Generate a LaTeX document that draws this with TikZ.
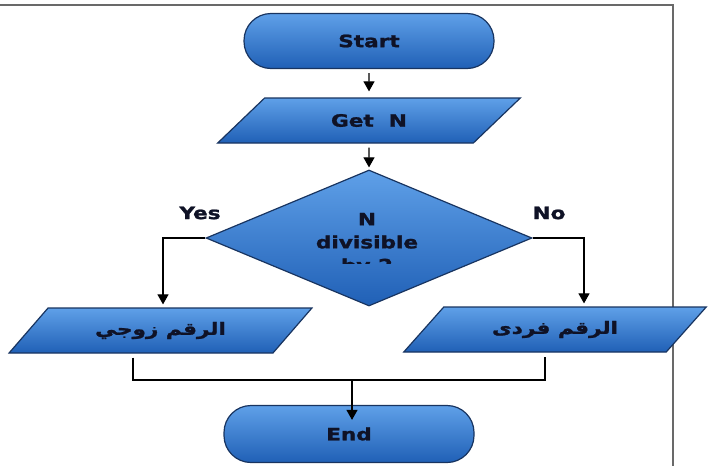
\documentclass[tikz,border=0pt]{standalone}
\usepackage{fontspec}
\setsansfont{DejaVu Sans}[BoldFeatures={FakeBold=1.3}]
\newfontfamily\arabicfont[Script=Arabic, BoldFeatures={FakeBold=1.3}]{DejaVu Sans}
\TeXXeTstate=1
\usetikzlibrary{shapes.geometric,arrows.meta}

\definecolor{boxtop}{RGB}{95,160,232}
\definecolor{boxbottom}{RGB}{32,96,182}
\definecolor{boxedge}{RGB}{24,52,96}
\definecolor{textdark}{RGB}{15,18,38}
\definecolor{framegray}{RGB}{105,105,105}

% wide bold lettering as in the chart
\newcommand{\widetxt}[1]{\scalebox{1.27}[1]{#1}}

\tikzset{
  box/.style={draw=boxedge, line width=1.2pt, top color=boxtop, bottom color=boxbottom,
    inner sep=0pt, font=\sffamily\bfseries\fontsize{17}{23}\selectfont, text=textdark},
  terminal/.style={box, rectangle, rounded corners=27pt, minimum width=250pt, minimum height=55pt},
  io/.style={box, trapezium, trapezium left angle=37, trapezium right angle=143,
    trapezium stretches=true, minimum width=303pt, minimum height=45pt},
  decision/.style={box, diamond, minimum width=326pt, minimum height=136pt},
  txt/.style={font=\sffamily\bfseries\fontsize{17}{23}\selectfont, text=textdark, inner sep=0pt},
  line/.style={draw=black, line width=1.1pt},
  arrow/.style={line, -{Triangle[width=11pt,length=10pt]}}
}

\begin{document}
\begin{tikzpicture}[x=1pt, y=-1pt]
\useasboundingbox (0,0) rectangle (712,466);

% Frame of the page
\draw[framegray, line width=2.5pt] (0,5) -- (673,5) -- (673,466);

% Flowchart boxes
\node[terminal] (start) at (369,41) {\widetxt{Start}};
\node[io] (getn) at (369,120.5) {\widetxt{Get\hspace{0.7em}N}};
\node[decision] (dec) at (369,238) {};
\node[io] (even) at (160.5,330.5) {\widetxt{\arabicfont\bfseries\beginR الرقم زوجي\endR}};
\node[io] (odd) at (555,329.5) {\widetxt{\arabicfont\bfseries\beginR الرقم فردى\endR}};
\node[terminal, minimum height=57pt] (end) at (349,434) {\widetxt{End}};

% Question text, cut off at the bottom
\begin{scope}
\clip (200,170) rectangle (530,263);
\node[txt, align=center] (dectext) at (367,244)
  {\widetxt{N}\\\widetxt{divisible}\\\widetxt{by 2}};
\end{scope}

% Branch labels
\node[txt] (yes) at (200,213) {\widetxt{Yes}};
\node[txt] (no) at (549,213) {\widetxt{No}};

% Connectors
\draw[arrow] ([yshift=-4pt]start.south) -- ([yshift=6pt]getn.north);
\draw[arrow] ([yshift=-4pt]getn.south) -- ([yshift=2pt]dec.north);
\draw[arrow] (dec.west) -| ([xshift=2.5pt,yshift=3pt]even.north);
\draw[arrow] (dec.east) -| ([xshift=29pt,yshift=3pt]odd.north);

% Joining the two outputs
\coordinate (merge) at (352,380);
\draw[line] ([xshift=-27.5pt,yshift=-4pt]even.south) |- (merge)
  -| ([xshift=-10pt,yshift=-4pt]odd.south);
\draw[arrow] (merge) -- ([yshift=-15pt]merge |- end.north);
\end{tikzpicture}
\end{document}
